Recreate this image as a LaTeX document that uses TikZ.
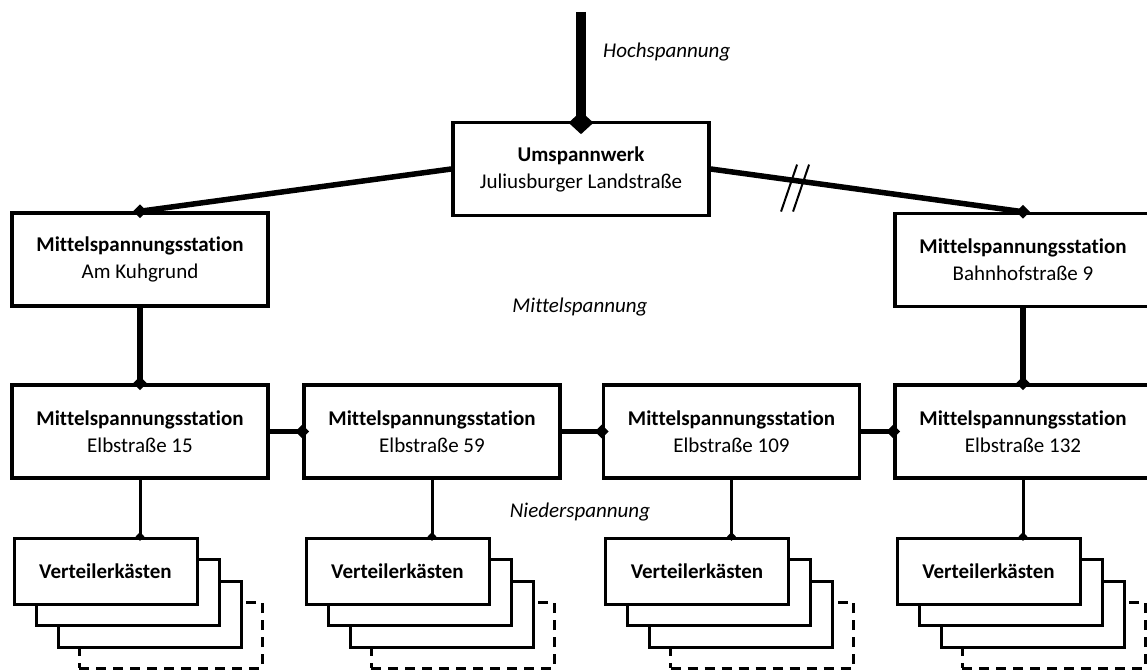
\documentclass[tikz,border=0pt]{standalone}
\usepackage{fontspec}
\setmainfont[Ligatures={NoCommon}]{Carlito}
\usetikzlibrary{shapes.geometric,calc}
\tikzset{
  station/.style={draw, line width=3.5pt, minimum width=256pt, minimum height=93pt,
    align=center, fill=white, inner sep=0pt, font=\fontsize{21}{27}\selectfont},
  vkbox/.style={draw, line width=3pt, minimum width=183pt, minimum height=66pt,
    fill=white, inner sep=0pt, font=\fontsize{21}{27}\selectfont\bfseries},
  vkdash/.style={draw, line width=3pt, dash pattern=on 10pt off 7pt,
    minimum width=183pt, minimum height=66pt, inner sep=0pt},
  hvline/.style={line width=10pt},
  tconn/.style={line width=5.5pt},
  fconn/.style={line width=3pt},
  slashmark/.style={line width=2pt},
  jtop/.style={diamond, fill=black, inner sep=0pt, minimum width=25pt, minimum height=23pt},
  jbig/.style={diamond, fill=black, inner sep=0pt, minimum width=14pt, minimum height=14pt},
  jsmall/.style={diamond, fill=black, inner sep=0pt, minimum width=9pt, minimum height=9pt},
  lbl/.style={font=\fontsize{21}{27}\selectfont\itshape, inner sep=0pt},
}
\begin{document}
\begin{tikzpicture}[x=1pt,y=-1pt]
\useasboundingbox (0,0) rectangle (1147,669);

% upper stations
\node[station] (U) at (581,169) {\textbf{Umspannwerk}\\Juliusburger Landstraße};
\node[station] (K) at (140,259.5) {\textbf{Mittelspannungsstation}\\Am Kuhgrund};
\node[station] (B) at (1023,260) {\textbf{Mittelspannungsstation}\\Bahnhofstraße 9};

% middle row
\node[station] (E15) at (140,431.5) {\textbf{Mittelspannungsstation}\\Elbstraße 15};
\node[station] (E59) at (432,431.5) {\textbf{Mittelspannungsstation}\\Elbstraße 59};
\node[station] (E109) at (731.5,431.5) {\textbf{Mittelspannungsstation}\\Elbstraße 109};
\node[station] (E132) at (1023,431.5) {\textbf{Mittelspannungsstation}\\Elbstraße 132};

% labels
\node[lbl, anchor=west] (lh) at (603,52) {Hochspannung};
\node[lbl] (lm) at (580,307) {Mittelspannung};
\node[lbl] (ln) at (580,512) {Niederspannung};

% Verteilerkaesten stacks
\foreach \c/\n in {140/a,432/b,731.5/c,1023/d}{
  \node[vkdash] (V4\n) at (\c+30.5,635) {};
  \node[vkbox] (V3\n) at (\c+9.5,614) {};
  \node[vkbox] (V2\n) at (\c-12.5,592) {};
  \node[vkbox] (V1\n) at (\c-34.5,571) {Verteilerkästen};
}

% high voltage feed
\coordinate (HV) at (581,12);
\draw[hvline] (HV) -- (U.north);
\node[jtop] (jU) at ([yshift=-2pt]U.north) {};

% medium voltage connectors
\draw[tconn] (U.west) -- (K.north);
\draw[tconn] (U.east) -- (B.north);
\draw[tconn] (K.south) -- (E15.north);
\draw[tconn] (B.south) -- (E132.north);
\draw[tconn] (E15.east) -- (E59.west);
\draw[tconn] (E59.east) -- (E109.west);
\draw[tconn] (E109.east) -- (E132.west);
\node[jbig] (jK) at (K.north) {};
\node[jbig] (jB) at (B.north) {};
\node[jbig] (jE15) at (E15.north) {};
\node[jbig] (jE132t) at (E132.north) {};
\node[jbig] (jE59) at (E59.west) {};
\node[jbig] (jE109) at (E109.west) {};
\node[jbig] (jE132) at (E132.west) {};

% break mark
\coordinate (brk) at ($(U.east)!0.27!(B.north)$);
\draw[slashmark] ($(brk)+(-14,31)$) -- ($(brk)+(2,-16)$);
\draw[slashmark] ($(brk)+(-2,31)$) -- ($(brk)+(14,-16)$);

% low voltage connectors
\foreach \s/\n in {E15/a,E59/b,E109/c,E132/d}{
  \draw[fconn] (\s.south) -- (\s.south |- V1\n.north);
  \node[jsmall] (j\n) at (\s.south |- V1\n.north) {};
}
\end{tikzpicture}
\end{document}
